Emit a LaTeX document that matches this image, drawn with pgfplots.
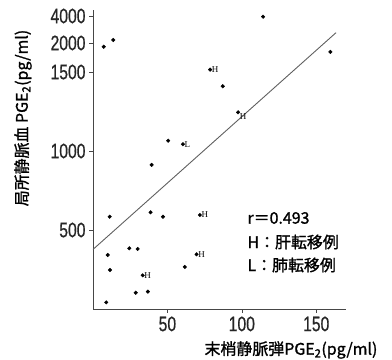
\documentclass[border=0pt]{standalone}
\usepackage{fontspec}
\setmainfont{Liberation Sans}
\newfontfamily\jp[FakeBold=1.3]{Noto Sans CJK JP}
\newfontfamily\narrow[FakeStretch=0.75,FakeBold=0.6]{Liberation Sans}
\newfontfamily\serifsmall{Liberation Serif}
\usepackage{pgfplots}
\pgfplotsset{compat=1.18}
\definecolor{axgray}{RGB}{70,70,70}
\definecolor{linegray}{RGB}{95,95,95}
\begin{document}
\begin{tikzpicture}[x=1bp,y=1bp]
\path[use as bounding box] (0,0) rectangle (392,360);
\begin{axis}[
  at={(93bp,51bp)}, anchor=south west,
  scale only axis, width=253bp, height=299bp,
  axis lines=left, axis line style={axgray, line width=0.8pt, -},
  xmin=0, xmax=170, ymin=0, ymax=4444,
  y coord trafo/.code={\pgfmathparse{min(#1,1500)+0.367*max(min(#1,2000)-1500,0)+0.0855*max(#1-2000,0)}},
  ytick={500,1000,1500,2000,4000},
  yticklabels={500,1000,1500,2000,4000},
  xtick={50,100,150},
  tick align=outside, major tick length=4bp,
  tick style={axgray, line width=0.6pt},
  /pgf/number format/assume math mode=true,
  ticklabel style={font=\narrow\fontsize{21}{21}\selectfont, text=black!85},
  clip=false,
]
% all points
\addplot[only marks, mark=*, mark size=1.8bp, black] coordinates {
(7.2,1936) (13.6,2228) (114.3,3947) (87.2,1410) (159.5,1846)
(50.5,1065) (39.4,912)
(11.2,584) (38.7,612) (47.0,584)
(9.9,342) (24.4,384) (30.0,380) (11.4,247) (61.7,266)
(28.7,103) (36.9,110) (8.9,42)
};
% H cases, label to the right
\addplot[only marks, mark=*, mark size=1.8bp, black,
  nodes near coords=H, nodes near coords align={anchor=west},
  every node near coord/.append style={font=\serifsmall\fontsize{9}{9}\selectfont, inner sep=1.5bp}]
  coordinates {(78.7,1541) (71.8,595) (69.6,346) (33.4,213)};
% H case, label below right
\addplot[only marks, mark=*, mark size=1.8bp, black,
  nodes near coords=H, nodes near coords align={anchor=north west},
  every node near coord/.append style={font=\serifsmall\fontsize{9}{9}\selectfont, inner sep=1.5bp}]
  coordinates {(97.5,1245)};
% L case
\addplot[only marks, mark=*, mark size=1.8bp, black,
  nodes near coords=L, nodes near coords align={anchor=west},
  every node near coord/.append style={font=\serifsmall\fontsize{9}{9}\selectfont, inner sep=1.5bp}]
  coordinates {(60.4,1043)};
% regression line
\addplot[linegray, line width=0.9pt] coordinates {(0,377) (163.3,2766)};
\end{axis}
\node[rotate=90, font=\jp\fontsize{16}{16}\selectfont] at (23,242) {局所静脈血 PGE\textsubscript{2}(pg/ml)};
\node[font=\jp\fontsize{16}{16}\selectfont] at (291,10) {末梢静脈弾PGE\textsubscript{2}(pg/ml)};
\node[anchor=west, font=\jp\fontsize{16}{16}\selectfont] at (244,142) {r＝0.493};
\node[anchor=west, font=\jp\fontsize{16}{16}\selectfont] at (244,118) {H：肝転移例};
\node[anchor=west, font=\jp\fontsize{16}{16}\selectfont] at (244,95) {L：肺転移例};
\end{tikzpicture}
\end{document}
